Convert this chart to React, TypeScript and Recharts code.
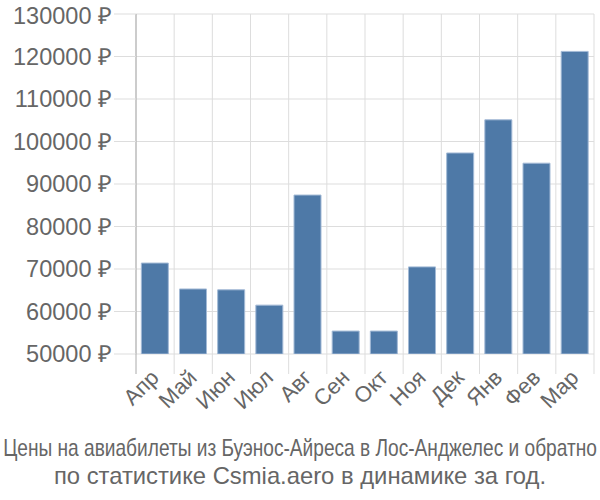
import { useLayoutEffect, useRef, useState } from 'react';
import { BarChart, Bar, XAxis, YAxis, CartesianGrid } from 'recharts';

const months = ['Апр', 'Май', 'Июн', 'Июл', 'Авг', 'Сен', 'Окт', 'Ноя', 'Дек', 'Янв', 'Фев', 'Мар'];
const prices = [71400, 65300, 65100, 61500, 87400, 55400, 55400, 70500, 97300, 105100, 94900, 121200];
const priceTicks = [50000, 60000, 70000, 80000, 90000, 100000, 110000, 120000, 130000];
const titleLines = [
    'Цены на авиабилеты из Буэнос-Айреса в Лос-Анджелес и обратно',
    'по статистике Csmia.aero в динамике за год.'
];

const W = 600;
const H = 500;
const margin = { top: 14, right: 6, bottom: 86, left: 0 };
const Y_AXIS_W = 136;
const PLOT_W = W - margin.left - margin.right - Y_AXIS_W;
const BAND = PLOT_W / months.length;
const FONT = '"Liberation Sans", Arial, sans-serif';
const TEXT = '#666';
const GRID = '#dddddd';
const AXIS = '#aaaaaa';

const data = months.map((m, i) => ({ month: m, price: prices[i] }));

// vertical grid sits on category boundaries, not centres
const boundaries = () =>
    Array.from({ length: months.length + 1 }, (_, i) => margin.left + Y_AXIS_W + i * BAND);

const MonthTick = (props: any) => {
    const { x, y, payload, index } = props;
    const left = x - BAND / 2;
    const tx = x + 5;
    const ty = y + 5;
    return (
        <g>
            <line x1={left} x2={left} y1={y - 20} y2={y} stroke={index === 0 ? AXIS : GRID} />
            {index === months.length - 1 && (
                <line x1={x + BAND / 2} x2={x + BAND / 2} y1={y - 20} y2={y} stroke={GRID} />
            )}
            <text
                x={tx}
                y={ty}
                transform={`rotate(-45 ${tx} ${ty})`}
                textAnchor="end"
                fill={TEXT}
                fontSize={22}
                fontFamily={FONT}
            >
                {payload.value}
            </text>
        </g>
    );
};

// first title line is squeezed horizontally to fit the width, as in the original
const SqueezedLine = ({ text, y, maxWidth }: { text: string; y: number; maxWidth: number }) => {
    const ref = useRef<SVGTextElement>(null);
    const [sx, setSx] = useState(0.8);
    useLayoutEffect(() => {
        if (ref.current) {
            const natural = ref.current.getComputedTextLength();
            if (natural > maxWidth) setSx(maxWidth / natural);
            else setSx(1);
        }
    }, [text, maxWidth]);
    return (
        <text
            ref={ref}
            x={0}
            y={0}
            transform={`translate(${W / 2} ${y}) scale(${sx} 1)`}
            textAnchor="middle"
            fill={TEXT}
            fontSize={23.8}
            fontFamily={FONT}
        >
            {text}
        </text>
    );
};

export default function App() {
    return (
        <div style={{ position: 'absolute', left: 0, top: 0, width: W, height: H, background: '#fff' }}>
            <BarChart width={W} height={H} data={data} margin={margin} barCategoryGap="14%">
                <CartesianGrid stroke={GRID} verticalCoordinatesGenerator={boundaries} />
                <XAxis
                    dataKey="month"
                    interval={0}
                    height={60}
                    tickSize={20}
                    tickMargin={0}
                    tickLine={false}
                    axisLine={false}
                    tick={<MonthTick />}
                />
                <YAxis
                    width={Y_AXIS_W}
                    domain={[50000, 130000]}
                    ticks={priceTicks}
                    allowDataOverflow
                    tickFormatter={(v: number) => `${v} ₽`}
                    tickSize={22}
                    tickMargin={2}
                    tickLine={{ stroke: GRID }}
                    axisLine={{ stroke: AXIS }}
                    tick={{ fill: TEXT, fontSize: 23.5, fontFamily: FONT }}
                />
                <Bar dataKey="price" fill="#4e79a7" stroke="#a3bad6" isAnimationActive={false} />
            </BarChart>
            <svg width={W} height={H} style={{ position: 'absolute', left: 0, top: 0, pointerEvents: 'none' }}>
                <SqueezedLine text={titleLines[0]} y={456} maxWidth={594} />
                <text x={W / 2} y={484} textAnchor="middle" fill={TEXT} fontSize={23.8} fontFamily={FONT}>
                    {titleLines[1]}
                </text>
            </svg>
        </div>
    );
}
